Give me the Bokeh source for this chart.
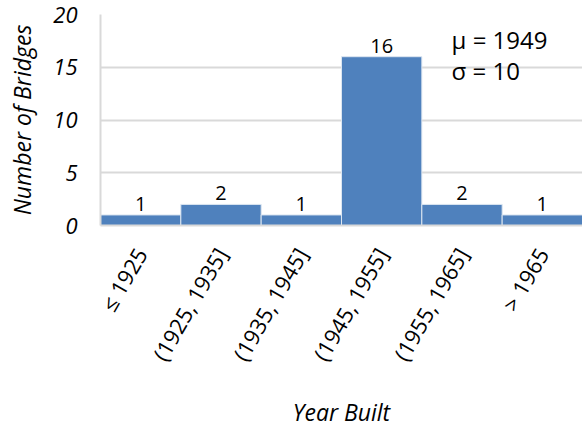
from bokeh.plotting import figure
from bokeh.models import FactorRange, Range1d, FixedTicker, Label, ColumnDataSource, LabelSet
from bokeh.core.properties import value
from bokeh.embed import file_html
from bokeh.resources import INLINE
import math

categories = ["≤ 1925", "(1925, 1935]", "(1935, 1945]", "(1945, 1955]", "(1955, 1965]", "> 1965"]
counts = [1, 2, 1, 16, 2, 1]
mu_text = "μ = 1949"
sigma_text = "σ = 10"

FONT = "Open Sans"

src = ColumnDataSource(dict(cat=categories, n=counts, lbl=[str(c) for c in counts]))

p = figure(frame_width=482, frame_height=211, x_range=FactorRange(*categories, range_padding=0),
           y_range=Range1d(0, 20), output_backend="svg", toolbar_location=None,
           min_border_left=100, min_border_right=0, min_border_top=14, min_border_bottom=0)
p.outline_line_color = None
p.background_fill_color = "white"
p.border_fill_color = "white"

p.vbar(x="cat", top="n", width=1.0, source=src, fill_color="#4F81BD",
       line_color="#DCE6F1", line_width=1)

labels = LabelSet(x="cat", y="n", text="lbl", source=src, text_align="center",
                  text_baseline="bottom", y_offset=4, text_font_size="20px",
                  text_font=value(FONT), text_color="#000000")
p.add_layout(labels)

p.add_layout(Label(x=4.37, y=17.6, text=mu_text, text_font=FONT, text_font_size="24px",
                   text_color="black", text_baseline="middle"))
p.add_layout(Label(x=4.37, y=14.7, text=sigma_text, text_font=FONT, text_font_size="24px",
                   text_color="black", text_baseline="middle"))

# grid
p.xgrid.grid_line_color = None
p.ygrid.grid_line_color = "#D9D9D9"
p.ygrid.grid_line_width = 2
p.ygrid.ticker = FixedTicker(ticks=[0, 5, 10, 15, 20])

# y axis
p.yaxis.ticker = FixedTicker(ticks=[0, 5, 10, 15, 20])
p.yaxis.axis_line_color = "#D9D9D9"
p.yaxis.axis_line_width = 2
p.yaxis.major_tick_line_color = None
p.yaxis.minor_tick_line_color = None
p.yaxis.major_label_text_font = FONT
p.yaxis.major_label_text_font_style = "italic"
p.yaxis.major_label_text_font_size = "22px"
p.yaxis.major_label_text_color = "#000000"
p.yaxis.major_label_standoff = 17
p.yaxis.axis_label = "Number of Bridges"
p.yaxis.axis_label_text_font = FONT
p.yaxis.axis_label_text_font_style = "italic"
p.yaxis.axis_label_text_font_size = "23px"
p.yaxis.axis_label_text_color = "#000000"
p.yaxis.axis_label_standoff = 12

# x axis
p.xaxis.axis_line_color = "#D9D9D9"
p.xaxis.axis_line_width = 2
p.xaxis.major_tick_line_color = None
p.xaxis.minor_tick_line_color = None
p.xaxis.major_label_orientation = math.pi / 3
p.xaxis.major_label_text_font = FONT
p.xaxis.major_label_text_font_size = "22px"
p.xaxis.major_label_text_color = "#000000"
p.xaxis.major_label_standoff = 18
p.xaxis.axis_label = "Year Built"
p.xaxis.axis_label_text_font = FONT
p.xaxis.axis_label_text_font_style = "italic"
p.xaxis.axis_label_text_font_size = "23px"
p.xaxis.axis_label_text_color = "#000000"
p.xaxis.axis_label_standoff = 20

open("out.html", "w").write(file_html(p, INLINE))
